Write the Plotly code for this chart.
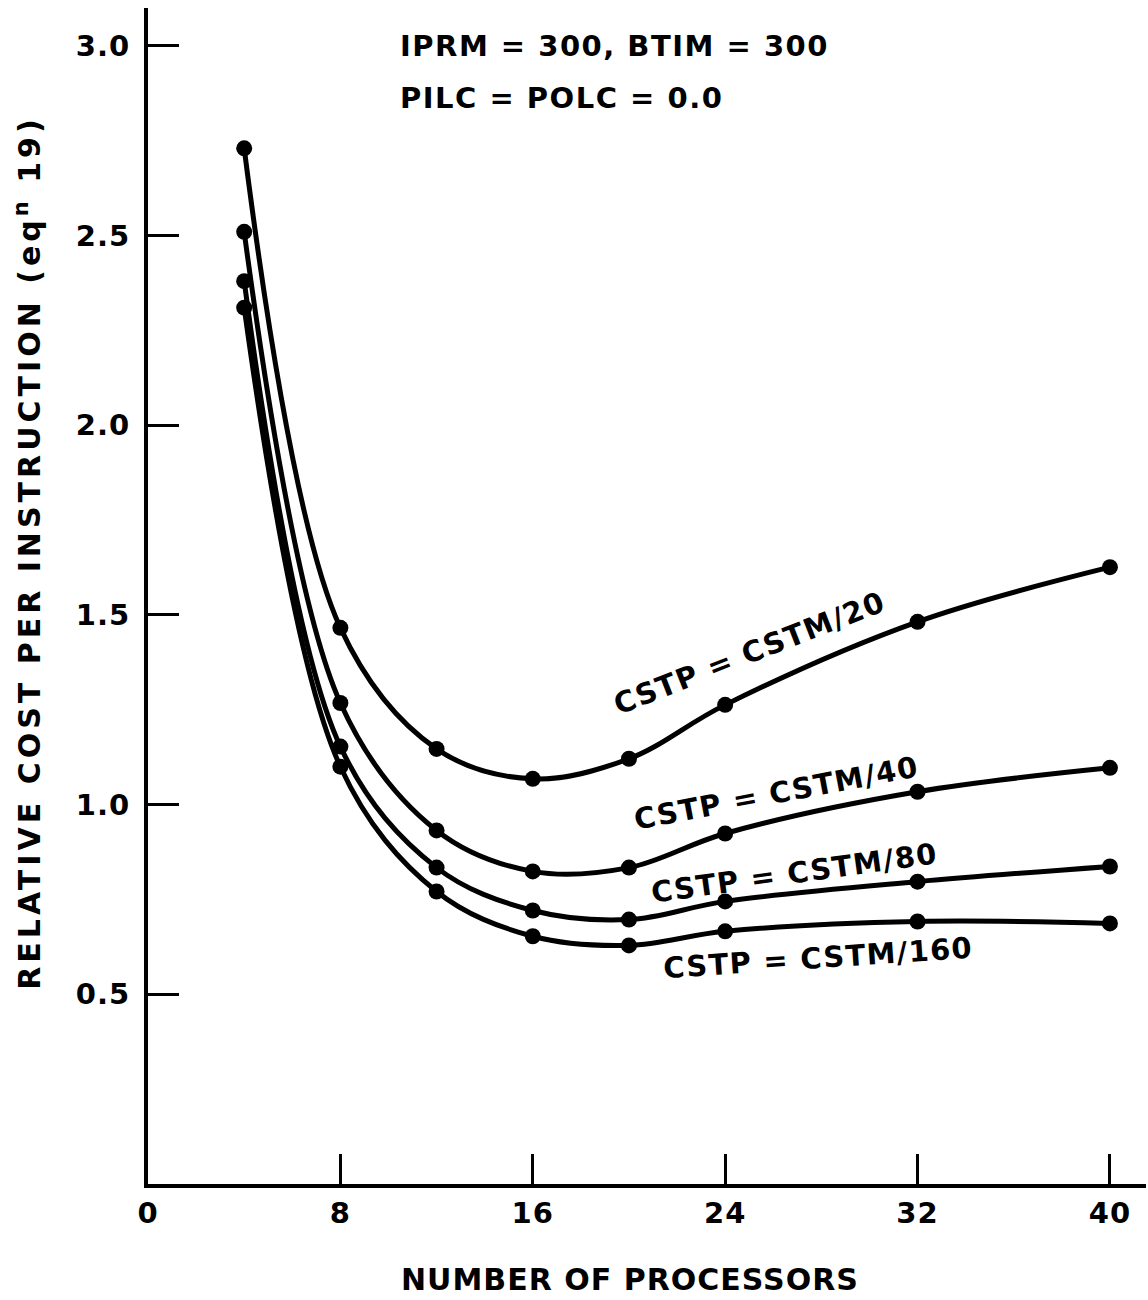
import plotly.graph_objects as go

# Number of processors
processors = [4, 8, 12, 16, 20, 24, 32, 40]

# Relative cost per instruction for each CSTP setting
cost_cstm20 = [2.73, 1.466, 1.147, 1.068, 1.121, 1.263, 1.482, 1.626]
cost_cstm40 = [2.51, 1.268, 0.932, 0.824, 0.834, 0.924, 1.034, 1.097]
cost_cstm80 = [2.38, 1.153, 0.834, 0.721, 0.697, 0.745, 0.797, 0.837]
cost_cstm160 = [2.31, 1.100, 0.771, 0.653, 0.629, 0.666, 0.692, 0.687]

series_labels = ["CSTP = CSTM/20", "CSTP = CSTM/40", "CSTP = CSTM/80", "CSTP = CSTM/160"]
label_x = [25.0, 26.15, 26.9, 27.85]
label_y = [1.40, 1.03, 0.819, 0.595]
label_angle = [-21.4, -10.7, -7.9, -3.8]

x_ticks = [0, 8, 16, 24, 32, 40]
y_ticks = [0.5, 1.0, 1.5, 2.0, 2.5, 3.0]

FONT = "DejaVu Sans"
INK = "black"


def lettered(text, spacing):
    """Bold text with extra tracking, like stencil lettering."""
    return f"<b><span style='letter-spacing:{spacing}px'>{text}</span></b>"


fig = go.Figure()
for ys in (cost_cstm20, cost_cstm40, cost_cstm80, cost_cstm160):
    fig.add_trace(go.Scatter(
        x=processors, y=ys, mode="lines+markers",
        line=dict(color=INK, width=5, shape="spline", smoothing=1.0),
        marker=dict(color=INK, size=16),
        showlegend=False, hoverinfo="skip",
    ))

for text, lx, ly, ang in zip(series_labels, label_x, label_y, label_angle):
    fig.add_annotation(x=lx, y=ly, text=lettered(text, 1.3), textangle=ang,
                       showarrow=False, font=dict(family=FONT, size=29, color=INK))

fig.add_annotation(x=10.4, y=3.0, text=lettered("IPRM = 300, BTIM = 300", 1.5), xanchor="left",
                   showarrow=False, font=dict(family=FONT, size=29, color=INK))
fig.add_annotation(x=10.4, y=2.864, text=lettered("PILC = POLC = 0.0", 1.5), xanchor="left",
                   showarrow=False, font=dict(family=FONT, size=29, color=INK))

# Axis titles
fig.add_annotation(xref="paper", yref="paper", x=0.483, y=-0.0816,
                   xanchor="center", yanchor="middle",
                   text=lettered("NUMBER OF PROCESSORS", 1.0),
                   showarrow=False, font=dict(family=FONT, size=30, color=INK))
fig.add_annotation(xref="paper", yref="paper", x=-0.120, y=0.537, textangle=-90,
                   xanchor="center", yanchor="middle",
                   text="<b><span style='letter-spacing:4px'>RELATIVE COST PER INSTRUCTION (eq"
                        "<sup>n</sup> 19)</span></b>",
                   showarrow=False, font=dict(family=FONT, size=30, color=INK))

fig.update_layout(
    width=1148, height=1300,
    margin=dict(l=148, r=2, t=8, b=116),
    paper_bgcolor="white", plot_bgcolor="white",
    font=dict(family=FONT, color=INK),
    xaxis=dict(
        range=[0, 41.5], tickvals=x_ticks, ticktext=[lettered(str(v), 1) for v in x_ticks],
        ticks="inside", ticklen=30, tickwidth=3, tickcolor=INK,
        showline=True, linewidth=4, linecolor=INK, showgrid=False, zeroline=False,
        tickfont=dict(family=FONT, size=29, color=INK),
    ),
    yaxis=dict(
        range=[0, 3.1], tickvals=y_ticks, ticktext=[lettered(f"{v:.1f}", 1) for v in y_ticks],
        ticks="inside", ticklen=31, tickwidth=3, tickcolor=INK, ticklabelstandoff=8,
        showline=True, linewidth=4, linecolor=INK, showgrid=False, zeroline=False,
        tickfont=dict(family=FONT, size=29, color=INK),
    ),
)

fig.write_html("out.html")
